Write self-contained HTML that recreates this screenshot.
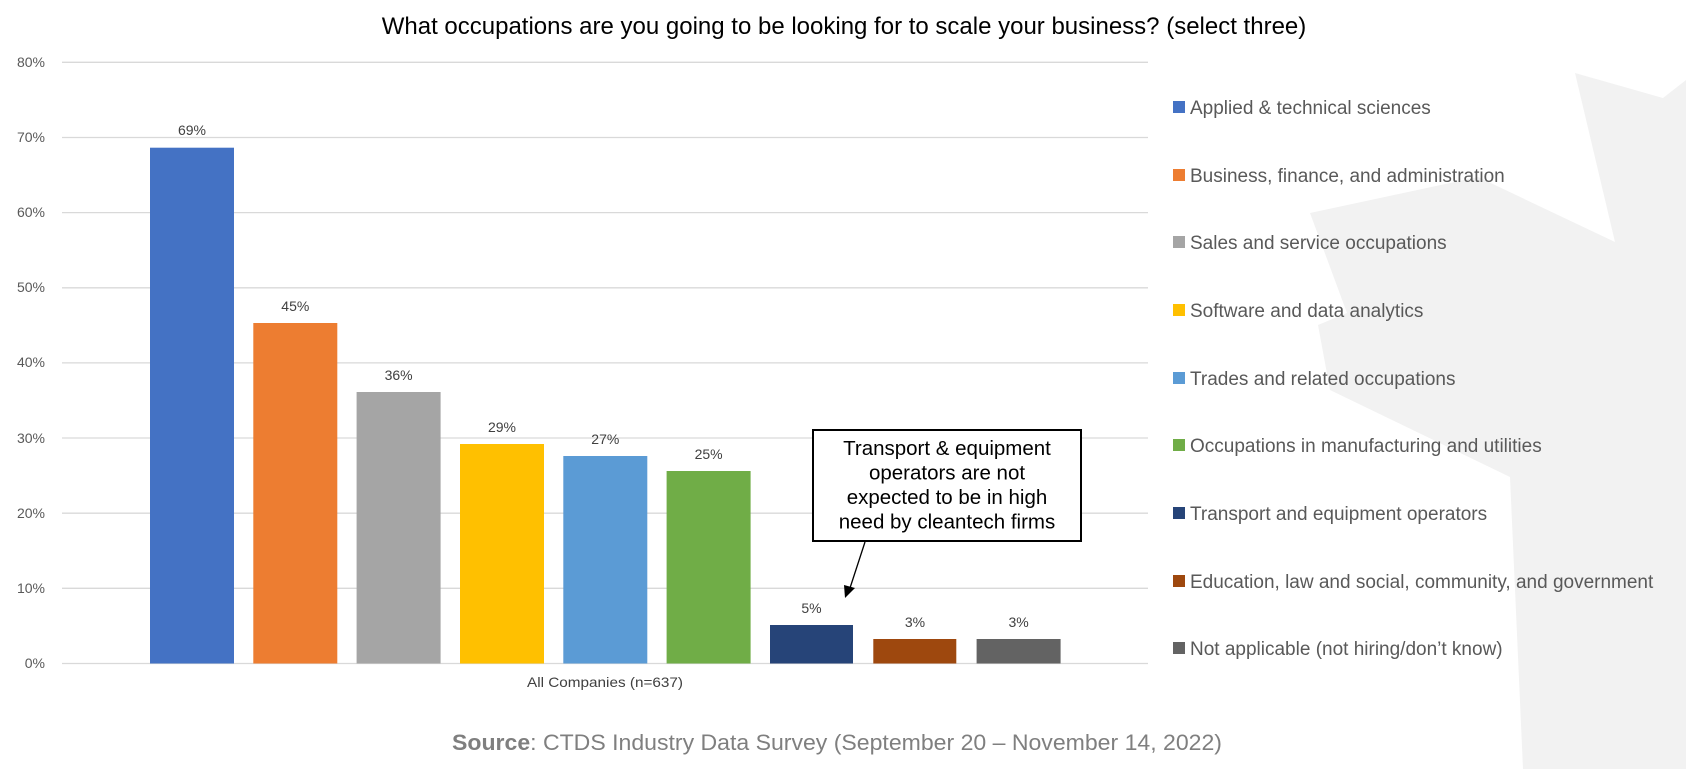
<!DOCTYPE html>
<html><head><meta charset="utf-8"><style>
html,body{margin:0;padding:0;background:#fff;}
body{width:1686px;height:769px;overflow:hidden;position:relative;font-family:"Liberation Sans",sans-serif;}
</style></head><body>
<svg width="1686" height="769" viewBox="0 0 1686 769" xmlns="http://www.w3.org/2000/svg" style="position:absolute;left:0;top:0">
<polygon points="1575,73 1615,242 1478,177 1310,213 1347,313 1318,325 1330,390 1510,477 1523,769 1686,769 1686,80 1663,98" fill="#f2f2f2"/>
<text x="844" y="34" text-anchor="middle" font-size="24" fill="#000">What occupations are you going to be looking for to scale your business? (select three)</text>
<g stroke="#d9d9d9" stroke-width="1.3">
<line x1="62" x2="1148" y1="62.3" y2="62.3"/><line x1="62" x2="1148" y1="137.5" y2="137.5"/>
<line x1="62" x2="1148" y1="212.6" y2="212.6"/><line x1="62" x2="1148" y1="287.8" y2="287.8"/>
<line x1="62" x2="1148" y1="362.9" y2="362.9"/><line x1="62" x2="1148" y1="438" y2="438"/>
<line x1="62" x2="1148" y1="513.2" y2="513.2"/><line x1="62" x2="1148" y1="588.3" y2="588.3"/>
<line x1="62" x2="1148" y1="663.5" y2="663.5"/>
</g>
<g font-size="14" fill="#595959" text-anchor="end">
<text x="45" y="67">80%</text><text x="45" y="142">70%</text><text x="45" y="217">60%</text>
<text x="45" y="292">50%</text><text x="45" y="367">40%</text><text x="45" y="443">30%</text>
<text x="45" y="518">20%</text><text x="45" y="593">10%</text><text x="45" y="668">0%</text>
</g>
<g>
<rect x="150" y="147.7" width="84" height="515.8" fill="#4472c4"/>
<rect x="253.3" y="323" width="84" height="340.5" fill="#ed7d31"/>
<rect x="356.6" y="392" width="84" height="271.5" fill="#a5a5a5"/>
<rect x="460" y="444" width="84" height="219.5" fill="#ffc000"/>
<rect x="563.3" y="456" width="84" height="207.5" fill="#5b9bd5"/>
<rect x="666.6" y="471" width="84" height="192.5" fill="#70ad47"/>
<rect x="770" y="625" width="83" height="38.5" fill="#264478"/>
<rect x="873.3" y="639" width="83" height="24.5" fill="#9e480e"/>
<rect x="976.6" y="639" width="84" height="24.5" fill="#636363"/>
</g>
<g font-size="14" fill="#404040" text-anchor="middle">
<text x="192" y="135">69%</text><text x="295.3" y="311">45%</text><text x="398.6" y="380">36%</text>
<text x="502" y="432">29%</text><text x="605.3" y="444">27%</text><text x="708.6" y="459">25%</text>
<text x="811.5" y="613">5%</text><text x="915" y="627">3%</text><text x="1018.6" y="627">3%</text>
</g>
<text x="527" y="687" font-size="14" fill="#404040" textLength="156" lengthAdjust="spacingAndGlyphs">All Companies (n=637)</text>
<rect x="813" y="430" width="268" height="111" fill="#fff" stroke="#000" stroke-width="2"/>
<g font-size="20.5" fill="#000" text-anchor="middle">
<text x="947" y="455">Transport &amp; equipment</text>
<text x="947" y="479.5">operators are not</text>
<text x="947" y="504">expected to be in high</text>
<text x="947" y="528.5">need by cleantech firms</text>
</g>
<line x1="865" y1="542" x2="850" y2="588" stroke="#000" stroke-width="1.3"/>
<polygon points="845,598 844,585 855,588" fill="#000"/>
<g font-size="19" fill="#595959">
<rect x="1173" y="101" width="12" height="12" fill="#4472c4"/><text x="1190" y="114">Applied &amp; technical sciences</text>
<rect x="1173" y="169" width="12" height="12" fill="#ed7d31"/><text x="1190" y="182">Business, finance, and administration</text>
<rect x="1173" y="236" width="12" height="12" fill="#a5a5a5"/><text x="1190" y="249">Sales and service occupations</text>
<rect x="1173" y="304" width="12" height="12" fill="#ffc000"/><text x="1190" y="317">Software and data analytics</text>
<rect x="1173" y="372" width="12" height="12" fill="#5b9bd5"/><text x="1190" y="385">Trades and related occupations</text>
<rect x="1173" y="439" width="12" height="12" fill="#70ad47"/><text x="1190" y="452">Occupations in manufacturing and utilities</text>
<rect x="1173" y="507" width="12" height="12" fill="#264478"/><text x="1190" y="520">Transport and equipment operators</text>
<rect x="1173" y="575" width="12" height="12" fill="#9e480e"/><text x="1190" y="588">Education, law and social, community, and government</text>
<rect x="1173" y="642" width="12" height="12" fill="#636363"/><text x="1190" y="655">Not applicable (not hiring/don’t know)</text>
</g>
<text x="452" y="750" font-size="22" fill="#7f7f7f" textLength="770" lengthAdjust="spacingAndGlyphs"><tspan font-weight="bold">Source</tspan>: CTDS Industry Data Survey (September 20 – November 14, 2022)</text>
</svg>
</body></html>
